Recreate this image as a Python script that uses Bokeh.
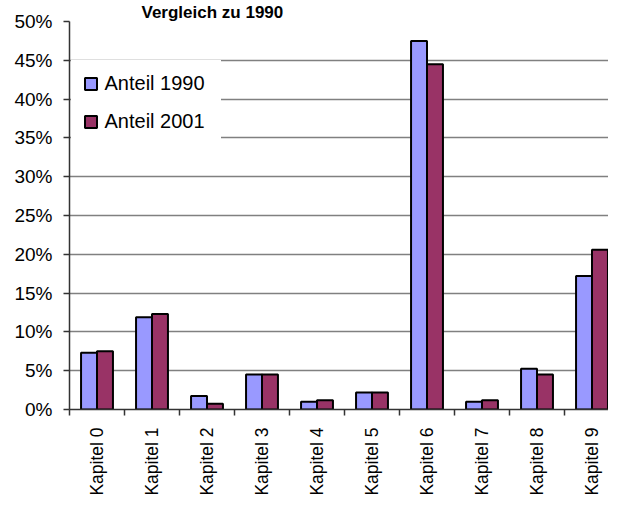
import math
from bokeh.plotting import figure
from bokeh.models import (Range1d, FixedTicker, PrintfTickFormatter, Legend,
                          LegendItem, ColumnDataSource)
from bokeh.transform import dodge
from bokeh.embed import file_html
from bokeh.resources import INLINE

# ---- data ----
categories = ["Kapitel 0", "Kapitel 1", "Kapitel 2", "Kapitel 3", "Kapitel 4",
              "Kapitel 5", "Kapitel 6", "Kapitel 7", "Kapitel 8", "Kapitel 9"]
anteil_1990 = [7.3, 11.9, 1.75, 4.5, 1.0, 2.2, 47.5, 1.0, 5.25, 17.2]
anteil_2001 = [7.5, 12.3, 0.75, 4.5, 1.2, 2.2, 44.5, 1.2, 4.5, 20.6]
series_names = ["Anteil 1990", "Anteil 2001"]
y_ticks = [0, 5, 10, 15, 20, 25, 30, 35, 40, 45, 50]
title_text = "Vergleich zu 1990"

FONT = "Liberation Sans"
x_centers = [i + 0.5 for i in range(len(categories))]
boundaries = [i for i in range(len(categories) + 1)]

src = ColumnDataSource(dict(x=x_centers, a=anteil_1990, b=anteil_2001))

p = figure(width=608, height=498, output_backend="svg", toolbar_location=None,
           x_range=Range1d(0, 9.8), y_range=Range1d(0, 50),
           min_border_left=69, min_border_right=0, min_border_top=20,
           min_border_bottom=87, title=title_text)
p.outline_line_color = None
p.background_fill_color = "white"
p.border_fill_color = "white"

# title (second line of the original chart title)
p.title.align = "left"
p.title.offset = 72
p.title.standoff = 0
p.title.text_font = FONT
p.title.text_font_style = "bold"
p.title.text_font_size = "17px"
p.title.text_color = "black"

r1 = p.vbar(x=dodge("x", -0.145), top="a", width=0.29, source=src,
            fill_color="#9999FF", line_color="black", line_width=2)
r2 = p.vbar(x=dodge("x", 0.145), top="b", width=0.29, source=src,
            fill_color="#993366", line_color="black", line_width=2)

# grid
p.xgrid.visible = False
p.ygrid.ticker = FixedTicker(ticks=y_ticks)
p.ygrid.grid_line_color = "#808080"
p.ygrid.grid_line_width = 1.5

# y axis
p.yaxis.ticker = FixedTicker(ticks=y_ticks)
p.yaxis.formatter = PrintfTickFormatter(format="%d%%")
p.yaxis.major_label_text_font = FONT
p.yaxis.major_label_text_font_size = "19px"
p.yaxis.major_label_text_color = "black"
p.yaxis.major_tick_out = 6
p.yaxis.major_tick_in = 0
p.yaxis.minor_tick_line_color = None
p.yaxis.major_tick_line_color = "#333333"
p.yaxis.major_tick_line_width = 1.5
p.yaxis.axis_line_color = "#333333"
p.yaxis.axis_line_width = 1.5
p.yaxis.major_label_standoff = 11

# x axis
p.xaxis.ticker = FixedTicker(ticks=x_centers, minor_ticks=boundaries)
p.xaxis.major_label_overrides = {xc: c for xc, c in zip(x_centers, categories)}
p.xaxis.major_label_orientation = math.pi / 2
p.xaxis.major_label_text_font = FONT
p.xaxis.major_label_text_font_size = "17.5px"
p.xaxis.major_label_text_color = "black"
p.xaxis.major_tick_out = 6
p.xaxis.major_tick_in = 0
p.xaxis.major_tick_line_color = None
p.xaxis.minor_tick_out = 6
p.xaxis.minor_tick_in = 0
p.xaxis.minor_tick_line_color = "#333333"
p.xaxis.minor_tick_line_width = 1.5
p.xaxis.axis_line_color = "#333333"
p.xaxis.axis_line_width = 1.5
p.xaxis.major_label_standoff = 12

# legend
legend = Legend(items=[LegendItem(label=series_names[0], renderers=[r1]),
                       LegendItem(label=series_names[1], renderers=[r2])],
                location=(1.5, 263.4), padding=11, spacing=14,
                glyph_width=15, glyph_height=15, label_height=24,
                label_width=104, label_standoff=7, margin=0,
                label_text_font=FONT, label_text_font_size="20px",
                label_text_color="black", border_line_color="white",
                border_line_width=1,
                background_fill_color="white", background_fill_alpha=1.0)
p.add_layout(legend)

open("out.html", "w").write(file_html(p, INLINE))
